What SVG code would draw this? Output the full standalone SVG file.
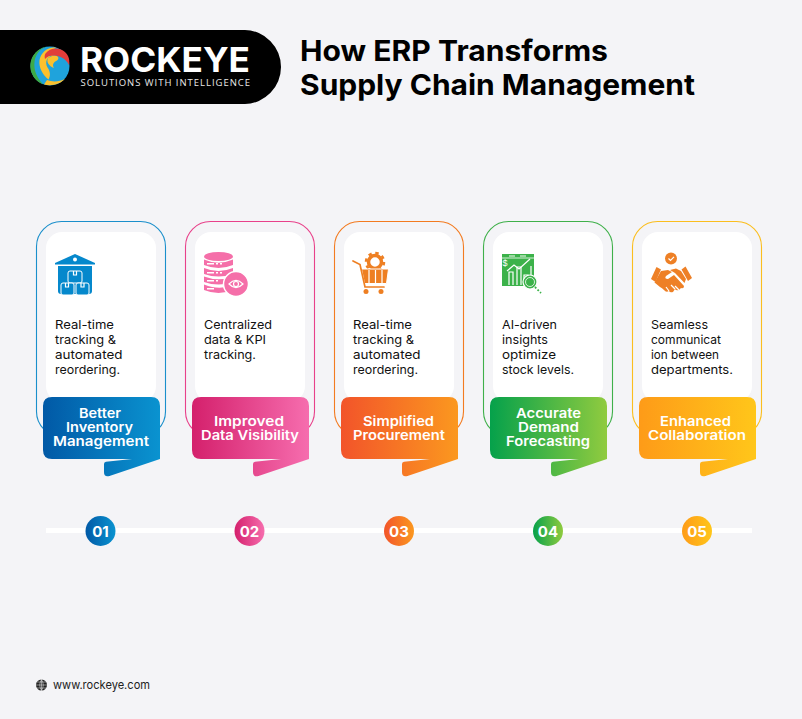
<svg xmlns="http://www.w3.org/2000/svg" width="802" height="719" viewBox="0 0 802 719">
<style>
.h{font-family:"Inter","Noto Sans","Liberation Sans",sans-serif;font-weight:700;fill:#000}
.b{font-family:"Inter","Noto Sans","Liberation Sans",sans-serif;font-size:12px;fill:#111}
.t{font-family:"Inter","Noto Sans","Liberation Sans",sans-serif;font-size:13.5px;font-weight:600;fill:#fff}
.n{font-family:"Inter","Noto Sans","Liberation Sans",sans-serif;font-size:15px;font-weight:700;fill:#fff;text-anchor:middle}
.o{fill:none;stroke-width:1.1}
.w{fill:#fff}
.ws{fill:none;stroke:#fff;stroke-width:1.2}
</style>
<defs>
<linearGradient id="g1" x1="0" y1="0" x2="1" y2="0"><stop offset="0" stop-color="#0159A6"/><stop offset="1" stop-color="#0A93D0"/></linearGradient>
<linearGradient id="g2" x1="0" y1="0" x2="1" y2="0"><stop offset="0" stop-color="#D4206C"/><stop offset="1" stop-color="#F66DAE"/></linearGradient>
<linearGradient id="g3" x1="0" y1="0" x2="1" y2="0"><stop offset="0" stop-color="#F2542A"/><stop offset="1" stop-color="#FB981F"/></linearGradient>
<linearGradient id="g4" x1="0" y1="0" x2="1" y2="0"><stop offset="0" stop-color="#05A14B"/><stop offset="1" stop-color="#90CB3F"/></linearGradient>
<linearGradient id="g5" x1="0" y1="0" x2="1" y2="0"><stop offset="0" stop-color="#FE9B18"/><stop offset="1" stop-color="#FFC61A"/></linearGradient>
<g id="frame">
<rect x="46" y="232" width="110" height="170" rx="16" class="w"/>
</g>
<path id="banner" d="M52 397H151Q160 397 160 406V459L109.500 476Q104 477.500 104 472V464Q104 462 106 461.800L132 459H52Q43 459 43 450V406Q43 397 52 397Z"/>
</defs>
<rect width="802" height="719" fill="#F4F4F7"/>

<g id="logo">
<path d="M0 30H245A37 37 0 0 1 281 67A37 37 0 0 1 245 104H0Z" fill="#000"/>
<circle cx="50" cy="66" r="19.500" fill="#1FA3DC"/>
<path d="M65 79C60 84 52 86.500 44 84.500L47 80C52 82 59 82 65 79Z" fill="#FBC02D"/>
<path d="M46 46.800A19.500 19.500 0 0 0 43 84.200C37 78 33.500 70 34.500 62C35.500 54 40 49 46 46.800Z" fill="#3DAA47"/>
<path d="M56 47.500C48 46.500 41 52 39.500 60C38.500 68 43 75 48.500 79.500C51 75 50 71 47.500 67.500C44.500 62 47 56.500 53 55.500C51 52 53 49 56 47.500Z" fill="#FBC02D"/>
<path d="M53 55.500C58 55 60 58 57 60.500C53 62.500 52 65 54 68C49 66 46 62 48 58Z" fill="#FBC02D"/>
<path d="M45.500 53.500C50 47.500 62 45.500 68 56C69.500 59 69.500 62 69 65C66 59 60 55.500 54 55.500C50 55.500 47 56.500 45 59C44.500 57 44.500 55 45.500 53.500Z" fill="#E23D3A"/>
<text x="80" y="72" font-family="Inter,'Liberation Sans',sans-serif" font-size="34" font-weight="700" fill="#fff" textLength="170" lengthAdjust="spacingAndGlyphs">ROCKEYE</text>
<text x="80.500" y="85.500" font-family="'Open Sans','Liberation Sans',sans-serif" font-size="9.500" fill="#e8e8e8" textLength="169.500" lengthAdjust="spacing">SOLUTIONS WITH INTELLIGENCE</text>
</g>

<g id="title">
<text class="h" x="300" y="61" font-size="29" textLength="308" lengthAdjust="spacingAndGlyphs">How ERP Transforms</text>
<text class="h" x="300" y="95" font-size="29" textLength="395" lengthAdjust="spacingAndGlyphs">Supply Chain Management</text>
</g>

<g id="timeline"><rect x="46" y="528" width="706" height="5" fill="#fff"/></g>

<g id="card1">
<rect class="o" x="36.500" y="221.500" width="129" height="215" rx="25" stroke="#1A8FCB"/>
<use href="#frame"/>
<g fill="#0588CC">
<path d="M55 263L75 254L95 263V264.500H55Z"/>
<path d="M58 266H92V291Q92 294 89 294H61Q58 294 58 291Z"/>
</g>
<circle cx="75" cy="259.500" r="2" fill="#fff"/>
<g fill="#0588CC" stroke="#fff" stroke-width="1">
<rect x="68" y="271" width="14" height="12" rx="2"/><rect x="61" y="283" width="13" height="12" rx="2"/><rect x="76" y="283" width="13" height="12" rx="2"/>
</g>
<path d="M73.500 271V275H76.500V271M65.500 283V287H68.500V283M81 283V287H84V283" class="ws" stroke-width="1"/>
<text class="b" x="55" y="329" textLength="59" lengthAdjust="spacingAndGlyphs">Real-time</text>
<text class="b" x="55" y="344" textLength="61" lengthAdjust="spacingAndGlyphs">tracking &amp;</text>
<text class="b" x="55" y="359" textLength="67.500" lengthAdjust="spacingAndGlyphs">automated</text>
<text class="b" x="55" y="374" textLength="65" lengthAdjust="spacingAndGlyphs">reordering.</text>
<use href="#banner" fill="url(#g1)"/>
<text class="t" x="79" y="418" textLength="42" lengthAdjust="spacingAndGlyphs">Better</text>
<text class="t" x="66" y="432" textLength="67" lengthAdjust="spacingAndGlyphs">Inventory</text>
<text class="t" x="53" y="446" textLength="96" lengthAdjust="spacingAndGlyphs">Management</text>
<circle cx="100.500" cy="531" r="15" fill="url(#g1)"/>
<text class="n" x="100.500" y="536.500">01</text>
</g>

<g id="card2" transform="translate(149 0)">
<rect class="o" x="36.500" y="221.500" width="129" height="215" rx="25" stroke="#E8418A"/>
<use href="#frame"/>
<g fill="#F56FA9">
<ellipse cx="69.500" cy="256.500" rx="14.500" ry="4.500"/>
<path d="M55 259.500Q69.500 266 84 259.500V265Q69.500 271 55 265Z"/>
<path d="M55 268Q69.500 274 84 268V274Q69.500 279 55 274Z"/>
<path d="M55 276.500Q69.500 282 84 276.500V282Q69.500 287 55 282Z"/>
<path d="M55 284.500Q69.500 290 80 286L84 290Q69.500 296 55 290Z"/>
</g>
<g fill="#fff"><rect x="58" y="263" width="7" height="1.500"/><rect x="67" y="263" width="2" height="1.500"/><rect x="71" y="263" width="2" height="1.500"/><rect x="58" y="272" width="7" height="1.500"/><rect x="67" y="272" width="2" height="1.500"/><rect x="71" y="272" width="2" height="1.500"/><rect x="58" y="280" width="7" height="1.500"/><rect x="67" y="280" width="2" height="1.500"/><rect x="58" y="288" width="7" height="1.500"/></g>
<circle cx="87" cy="284" r="12.500" fill="#F56FA9" stroke="#fff" stroke-width="1.500"/>
<path d="M80 284Q87 277 94 284Q87 291 80 284Z" class="ws"/>
<circle cx="87" cy="284" r="2.500" class="ws"/>
<text class="b" x="55" y="329" textLength="68" lengthAdjust="spacingAndGlyphs">Centralized</text>
<text class="b" x="55" y="344" textLength="62" lengthAdjust="spacingAndGlyphs">data &amp; KPI</text>
<text class="b" x="55" y="359" textLength="52" lengthAdjust="spacingAndGlyphs">tracking.</text>
<use href="#banner" fill="url(#g2)"/>
<text class="t" x="65" y="426" textLength="70" lengthAdjust="spacingAndGlyphs">Improved</text>
<text class="t" x="52" y="440" textLength="98" lengthAdjust="spacingAndGlyphs">Data Visibility</text>
<circle cx="100.500" cy="531" r="15" fill="url(#g2)"/>
<text class="n" x="100.500" y="536.500">02</text>
</g>

<g id="card3" transform="translate(298 0)">
<rect class="o" x="36.500" y="221.500" width="129" height="215" rx="25" stroke="#F37B20"/>
<use href="#frame"/>
<circle cx="77" cy="262" r="6.500" fill="none" stroke="#EE7F22" stroke-width="3.500"/>
<circle cx="77" cy="262" r="9" fill="none" stroke="#EE7F22" stroke-width="2.500" stroke-dasharray="3.400 3.670"/>
<path d="M63.500 269H90.500L88.500 283.500H66.500Z" fill="#EE7F22" stroke="#fff" stroke-width="1"/>
<circle cx="68" cy="291.500" r="2.500" fill="#EE7F22"/><circle cx="83" cy="291.500" r="2.500" fill="#EE7F22"/>
<path d="M55 261L62 264.500L67 287H86" fill="none" stroke="#EE7F22" stroke-width="1.700" stroke-linecap="round"/>
<path d="M71 270V283M77.500 270V283M84 270V283" class="ws" stroke-width="1"/>
<text class="b" x="55" y="329" textLength="59" lengthAdjust="spacingAndGlyphs">Real-time</text>
<text class="b" x="55" y="344" textLength="61" lengthAdjust="spacingAndGlyphs">tracking &amp;</text>
<text class="b" x="55" y="359" textLength="67.500" lengthAdjust="spacingAndGlyphs">automated</text>
<text class="b" x="55" y="374" textLength="65" lengthAdjust="spacingAndGlyphs">reordering.</text>
<use href="#banner" fill="url(#g3)"/>
<text class="t" x="65" y="426" textLength="71" lengthAdjust="spacingAndGlyphs">Simplified</text>
<text class="t" x="55" y="440" textLength="92" lengthAdjust="spacingAndGlyphs">Procurement</text>
<circle cx="101" cy="531" r="15" fill="url(#g3)"/>
<text class="n" x="101" y="536.500">03</text>
</g>

<g id="card4" transform="translate(447 0)">
<rect class="o" x="36.500" y="221.500" width="129" height="215" rx="25" stroke="#3FB04A"/>
<use href="#frame"/>
<rect x="55" y="254" width="32" height="32" fill="#3CB24A"/>
<path d="M55 258H87" stroke="#fff" stroke-width=".8"/>
<rect x="62" y="255" width="6" height="2" fill="#9ad8a0"/><rect x="73" y="255" width="6" height="2" fill="#9ad8a0"/>
<path d="M62 285V272H66V285M70 285V267H74V285M77 285V275H81V285M84 280V266" class="ws"/>
<path d="M60 271L67 265L72 269L83 259" class="ws"/>
<circle cx="83" cy="282" r="7" fill="#3CB24A" stroke="#fff" stroke-width="1.200"/>
<circle cx="83" cy="282" r="4.500" fill="none" stroke="#fff" stroke-width=".8"/>
<path d="M88 287L94 293" fill="none" stroke="#3CB24A" stroke-width="1.800" stroke-dasharray="1.800 1.800"/>
<text x="55.500" y="266" font-family="'Liberation Sans',sans-serif" font-size="9" fill="#fff">$</text>
<text class="b" x="55" y="329" textLength="55" lengthAdjust="spacingAndGlyphs">AI-driven</text>
<text class="b" x="55" y="344" textLength="46" lengthAdjust="spacingAndGlyphs">insights</text>
<text class="b" x="55" y="359" textLength="54" lengthAdjust="spacingAndGlyphs">optimize</text>
<text class="b" x="55" y="374" textLength="72" lengthAdjust="spacingAndGlyphs">stock levels.</text>
<use href="#banner" fill="url(#g4)"/>
<text class="t" x="69" y="418" textLength="65" lengthAdjust="spacingAndGlyphs">Accurate</text>
<text class="t" x="71" y="432" textLength="61" lengthAdjust="spacingAndGlyphs">Demand</text>
<text class="t" x="59" y="446" textLength="84" lengthAdjust="spacingAndGlyphs">Forecasting</text>
<circle cx="101" cy="531" r="15" fill="url(#g4)"/>
<text class="n" x="101" y="536.500">04</text>
</g>

<g id="card5" transform="translate(596 0)">
<rect class="o" x="36.500" y="221.500" width="129" height="215" rx="25" stroke="#FBBE1E"/>
<use href="#frame"/>
<circle cx="75" cy="258.500" r="6" fill="#EE8026"/>
<path d="M72.500 258.500L74.500 260.500L78 256.800" class="ws"/>
<g fill="#EE8026">
<path d="M55 279L60.500 267L65 269.500L59.500 282Z"/>
<path d="M89.500 266.500L96 278L92 281L85.500 269.500Z"/>
<path d="M65 271L72 270L76 272L70 276Q68 279 72 279L78 275L88 286Q88 289 85 288L83 290Q80 291 79 289L77 292Q74 293 73 291Q70 293 68 290Q66 288 64 287L58.500 282.500Z"/>
<path d="M74 270L80 268.500L85 271L90 279L88.500 283L79 273Z"/>
</g>
<path d="M79 289L75 285M73 291L70 287M83 290L79 286" class="ws" stroke-width=".9"/>
<text class="b" x="55" y="329" textLength="57" lengthAdjust="spacingAndGlyphs">Seamless</text>
<text class="b" x="55" y="344" textLength="70" lengthAdjust="spacingAndGlyphs">communicat</text>
<text class="b" x="55" y="359" textLength="68" lengthAdjust="spacingAndGlyphs">ion between</text>
<text class="b" x="55" y="374" textLength="82" lengthAdjust="spacingAndGlyphs">departments.</text>
<use href="#banner" fill="url(#g5)"/>
<text class="t" x="64" y="426" textLength="71" lengthAdjust="spacingAndGlyphs">Enhanced</text>
<text class="t" x="52" y="440" textLength="98" lengthAdjust="spacingAndGlyphs">Collaboration</text>
<circle cx="101" cy="531" r="15" fill="url(#g5)"/>
<text class="n" x="101" y="536.500">05</text>
</g>

<g id="footer">
<circle cx="41.500" cy="685" r="5.500" fill="#222"/>
<path d="M36 685H47M37 682H46M37 688H46M41.500 679.500V690.500M41.500 679.500Q38 685 41.500 690.500M41.500 679.500Q45 685 41.500 690.500" fill="none" stroke="#F4F4F7" stroke-width=".5"/>
<text x="53" y="689" font-family="Inter,'Liberation Sans',sans-serif" font-size="12" fill="#222" textLength="97" lengthAdjust="spacingAndGlyphs">www.rockeye.com</text>
</g>
</svg>
